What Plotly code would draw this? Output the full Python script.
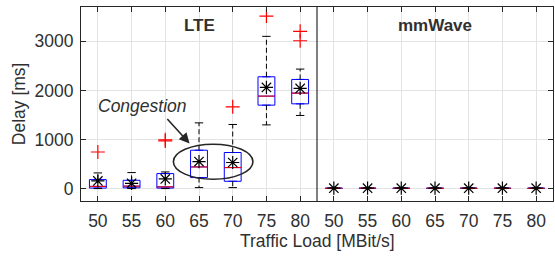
import plotly.graph_objects as go

# ---------------- data ----------------
loads = ["50", "55", "60", "65", "70", "75", "80"]
groups = ["LTE", "mmWave"]

lte_q1 = [10, 15, 10, 224, 149, 1700, 1727]
lte_med = [45, 50, 35, 441, 428, 1884, 1945]
lte_q3 = [183, 169, 306, 782, 735, 2278, 2224]
lte_lo = [0, 0, 0, 20, 20, 1298, 1490]
lte_hi = [319, 326, 339, 1339, 1306, 3102, 2435]
lte_mean = [156, 108, 197, 551, 531, 2061, 2041]
lte_out = [[745], [], [972, 995], [], [1665], [3516], [3012, 3204]]

mm_q1 = [3, 3, 3, 3, 3, 3, 3]
mm_med = [6, 6, 6, 6, 6, 6, 6]
mm_q3 = [10, 10, 10, 10, 10, 10, 10]
mm_lo = [0, 0, 0, 0, 0, 0, 0]
mm_hi = [18, 18, 18, 18, 18, 18, 18]
mm_mean = [8, 8, 8, 8, 8, 8, 8]
mm_out = [[], [], [], [], [], [], []]

yticks = [0, 1000, 2000, 3000]

# ---------------- assemble ----------------
q1 = lte_q1 + mm_q1
med = lte_med + mm_med
q3 = lte_q3 + mm_q3
lo = lte_lo + mm_lo
hi = lte_hi + mm_hi
mean = lte_mean + mm_mean
outs = lte_out + mm_out
pos = list(range(1, len(q1) + 1))
ticktext = loads + loads

BOXW = 0.5
CAPW = 0.25
FONT = "Liberation Sans, Arial, sans-serif"
TXT = "#303030"

fig = go.Figure()

# blue boxes (no whiskers: fences = quartiles)
fig.add_trace(go.Box(
    x=pos, q1=q1, median=med, q3=q3, lowerfence=q1, upperfence=q3,
    width=BOXW, fillcolor="rgba(0,0,0,0)",
    line=dict(color="#0000ff", width=1), showlegend=False, hoverinfo="skip",
))

# whiskers (dashed) and caps
wx, wy, cx, cy, mx, my = [], [], [], [], [], []
for p, a, b, l, h, m in zip(pos, q1, q3, lo, hi, med):
    wx += [p, p, None, p, p, None]
    wy += [b, h, None, a, l, None]
    cx += [p - CAPW / 2, p + CAPW / 2, None, p - CAPW / 2, p + CAPW / 2, None]
    cy += [h, h, None, l, l, None]
    mx += [p - BOXW / 2, p + BOXW / 2, None]
    my += [m, m, None]

fig.add_trace(go.Scatter(x=wx, y=wy, mode="lines", line=dict(color="black", width=1, dash="5px,3px"),
                         showlegend=False, hoverinfo="skip"))
fig.add_trace(go.Scatter(x=cx, y=cy, mode="lines", line=dict(color="black", width=1),
                         showlegend=False, hoverinfo="skip"))
fig.add_trace(go.Scatter(x=mx, y=my, mode="lines", line=dict(color="#ff0000", width=1),
                         showlegend=False, hoverinfo="skip"))

# outliers
ox, oy = [], []
for p, o in zip(pos, outs):
    for v in o:
        ox.append(p)
        oy.append(v)
fig.add_trace(go.Scatter(x=ox, y=oy, mode="markers",
                         marker=dict(symbol="cross-thin-open", size=10, color="#ff0000",
                                     line=dict(color="#ff0000", width=1.2)),
                         showlegend=False, hoverinfo="skip"))

# means
fig.add_trace(go.Scatter(x=pos, y=mean, mode="markers",
                         marker=dict(symbol="asterisk-open", size=11, color="black",
                                     line=dict(color="black", width=1.2)),
                         showlegend=False, hoverinfo="skip"))

# divider between groups
fig.add_vline(x=len(loads) + 0.5, line=dict(color="black", width=1))

# group titles
fig.add_annotation(x=(1 + len(loads)) / 2, y=3330, text="<b>LTE</b>", showarrow=False,
                   font=dict(family=FONT, size=17, color=TXT), xref="x", yref="y")
fig.add_annotation(x=len(loads) + (1 + len(loads)) / 2, y=3330, text="<b>mmWave</b>", showarrow=False,
                   font=dict(family=FONT, size=17, color=TXT), xref="x", yref="y")

# axis titles
fig.add_annotation(x=0.5, y=-0.207, xref="paper", yref="paper", text="Traffic Load [MBit/s]",
                   showarrow=False, xanchor="center", yanchor="middle",
                   font=dict(family=FONT, size=17.5, color=TXT))
fig.add_annotation(x=-0.131, y=0.5, xref="paper", yref="paper", text="Delay [ms]", textangle=-90,
                   showarrow=False, xanchor="center", yanchor="middle",
                   font=dict(family=FONT, size=17.5, color=TXT))

# congestion callout
fig.add_annotation(x=2.33, y=1686, text="<i>Congestion</i>", showarrow=False,
                   font=dict(family=FONT, size=17.5, color=TXT), xref="x", yref="y")
fig.add_annotation(x=3.72, y=918, ax=3.02, ay=1449, xref="x", yref="y", axref="x", ayref="y",
                   text="", showarrow=True, arrowhead=2, arrowsize=1.3, arrowwidth=1.6, arrowcolor="#262626")
fig.add_shape(type="circle", xref="x", yref="y", x0=3.24, x1=5.6, y0=190, y1=904,
              line=dict(color="#262626", width=1.6))

fig.update_layout(
    width=555, height=256,
    margin=dict(l=81, r=2, t=7, b=55),
    paper_bgcolor="white", plot_bgcolor="white",
    font=dict(family=FONT, size=17.5, color=TXT),
    showlegend=False,
)
fig.update_xaxes(
    automargin=False,
    range=[0.5, len(pos) + 0.5], tickmode="array", tickvals=pos, ticktext=ticktext,
    showgrid=True, gridcolor="#e3e3e3", gridwidth=1, zeroline=False,
    showline=True, linecolor="#262626", linewidth=1, mirror="ticks",
    ticks="inside", ticklen=5, tickcolor="#262626",
    tickfont=dict(size=17.5, color=TXT), ticklabelstandoff=4,
)
fig.update_yaxes(
    automargin=False,
    range=[-253, 3700], tickmode="array", tickvals=yticks,
    showgrid=True, gridcolor="#e3e3e3", gridwidth=1, zeroline=False,
    showline=True, linecolor="#262626", linewidth=1, mirror="ticks",
    ticks="inside", ticklen=5, tickcolor="#262626",
    tickfont=dict(size=17.5, color=TXT), ticklabelstandoff=3,
)

fig.write_html("out.html", config={"displayModeBar": False},
               post_script="document.body.style.margin='0';")
